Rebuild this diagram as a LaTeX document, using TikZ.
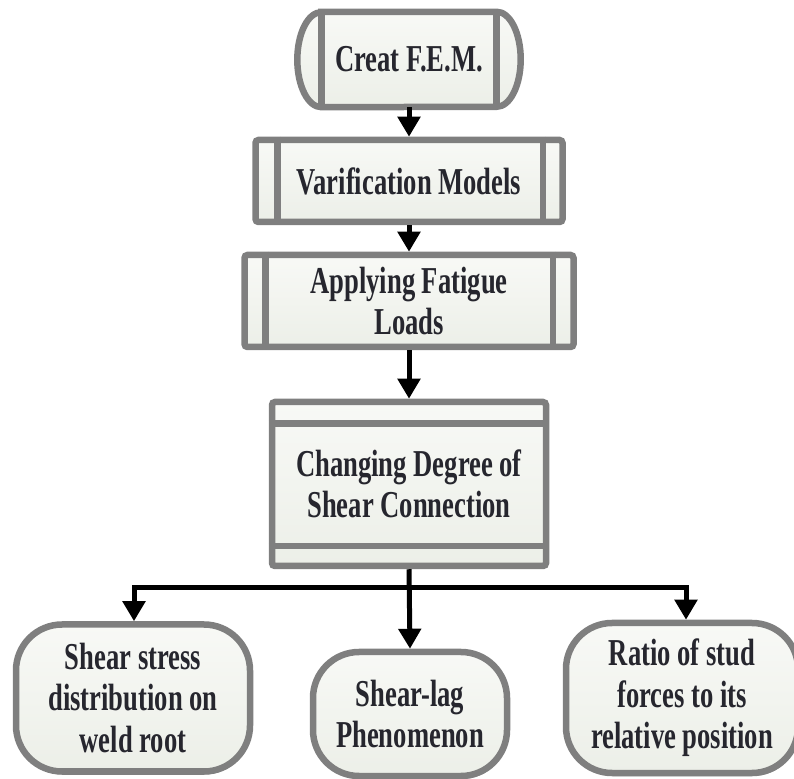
\documentclass[tikz,border=0pt]{standalone}
\usepackage{fontspec}
\newfontfamily\labelfont[FakeStretch=0.7]{Liberation Serif}
\usetikzlibrary{arrows.meta,shadows}
\definecolor{bordergray}{HTML}{7F7F7F}
\definecolor{fillT}{HTML}{F8F9F6}
\definecolor{fillB}{HTML}{ECEFE8}
\definecolor{txt}{HTML}{26262E}
\tikzset{
  bd/.style={draw=bordergray, line width=6.5pt},
  boxfill/.style={top color=fillT, bottom color=fillB},
  boxtext/.style={font=\labelfont\bfseries\fontsize{38}{41}\selectfont, text=txt, align=center, inner sep=0pt},
  proc/.style={bd, boxfill, boxtext, rounded corners=3pt},
  endbox/.style={bd, boxfill, rounded corners=46pt, align=center, inner sep=0pt,
     font=\labelfont\bfseries\fontsize{38}{41.5}\selectfont, text=txt,
     drop shadow={shadow xshift=1pt, shadow yshift=-3pt, fill=black, opacity=0.35}},
  conn/.style={line width=5pt, draw=black, line join=miter},
  arr/.style={conn, -{Triangle[width=22pt,length=20pt]}},
}
\begin{document}
\begin{tikzpicture}[x=1pt,y=1pt]
\useasboundingbox (0,0) rectangle (794,778);
% Creat F.E.M. (terminal with vertical lines)
\node[minimum width=175pt, minimum height=95pt, inner sep=0pt] (n1) at (409,718.5) {};
\path[boxfill] (n1.north west) -- (n1.north east)
   arc[start angle=90, end angle=-90, x radius=24pt, y radius=47.5pt]
   -- (n1.south west)
   arc[start angle=270, end angle=90, x radius=24pt, y radius=47.5pt] -- cycle;
\node[boxtext] (n1t) at (n1) {Creat F.E.M.};
\draw[bd] (n1.north west) -- (n1.north east)
   arc[start angle=90, end angle=-90, x radius=24pt, y radius=47.5pt]
   -- (n1.south west)
   arc[start angle=270, end angle=90, x radius=24pt, y radius=47.5pt] -- cycle;
\draw[bd] (n1.north west) -- (n1.south west);
\draw[bd] (n1.north east) -- (n1.south east);
% Varification Models (predefined process)
\node[proc, minimum width=307pt, minimum height=82pt] (n2) at (409,597) {Varification Models};
\draw[bd] ([xshift=25pt]n2.north west) -- ([xshift=25pt]n2.south west);
\draw[bd] ([xshift=-23pt]n2.north east) -- ([xshift=-23pt]n2.south east);
% Applying Fatigue Loads
\node[proc, minimum width=329pt, minimum height=92pt] (n3) at (409,477) {Applying Fatigue\\Loads};
\draw[bd] ([xshift=24pt]n3.north west) -- ([xshift=24pt]n3.south west);
\draw[bd] ([xshift=-24pt]n3.north east) -- ([xshift=-24pt]n3.south east);
% Changing Degree of Shear Connection
\node[proc, minimum width=274pt, minimum height=164pt] (n4) at (409,294) {Changing Degree of\\Shear Connection};
\draw[bd] ([yshift=-25pt]n4.north west) -- ([yshift=-25pt]n4.north east);
\draw[bd] ([yshift=23pt]n4.south west) -- ([yshift=23pt]n4.south east);
% bottom terminals
\node[endbox, minimum width=234pt, minimum height=147pt] (b1) at (133,80) {Shear stress\\distribution on\\weld root};
\node[endbox, minimum width=194pt, minimum height=124pt] (b2) at (410,64) {Shear-lag\\Phenomenon};
\node[endbox, minimum width=232pt, minimum height=150pt] (b3) at (682,80) {Ratio of stud\\forces to its\\relative position};
% connectors
\coordinate (j) at (409,190);
\draw[arr] (n1.south) -- (n2.north);
\draw[arr] (n2.south) -- (n3.north);
\draw[arr] (n3.south) -- (n4.north);
\draw[arr] (n4.south) -- (b2.north);
\draw[arr] (j) -| ([xshift=1pt]b1.north);
\draw[arr] (j) -| ([xshift=4pt]b3.north);
\end{tikzpicture}
\end{document}
